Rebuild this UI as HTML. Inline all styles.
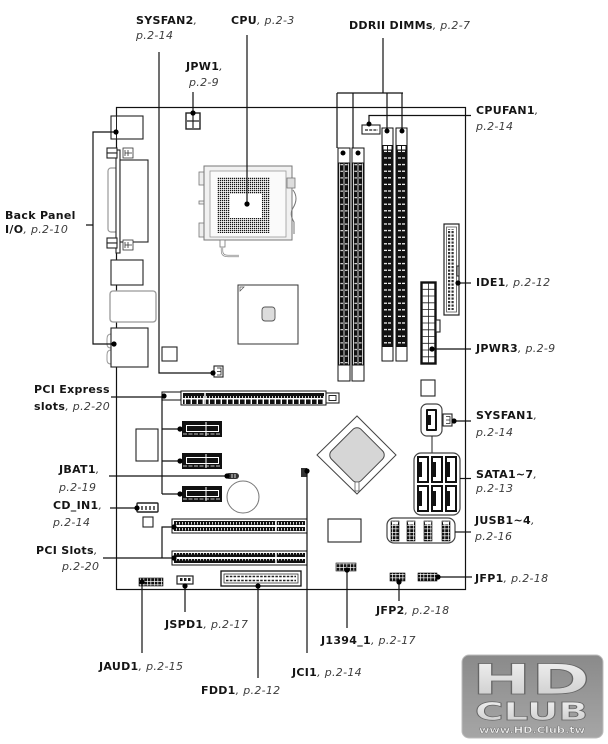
<!DOCTYPE html>
<html><head><meta charset="utf-8">
<style>
html,body{margin:0;padding:0;background:#fff;}
svg{display:block;}
.b{font-family:"DejaVu Sans","Liberation Sans",sans-serif;font-weight:bold;font-size:11px;fill:#151515;letter-spacing:0.3px;}
.i{font-weight:normal;font-style:italic;fill:#3c3c3c;}
.ld{stroke:#111;stroke-width:1.2;fill:none;}
.c{fill:#fff;stroke:#222;stroke-width:1.1;}
</style></head><body>
<svg width="608" height="744" viewBox="0 0 608 744" xmlns="http://www.w3.org/2000/svg">
<defs>
<pattern id="cpupins" width="2" height="2" patternUnits="userSpaceOnUse"><rect width="1.25" height="1.25" fill="#111"/></pattern>
<pattern id="dashR" width="11" height="6.6" patternUnits="userSpaceOnUse"><rect width="11" height="6.6" fill="#111"/><rect x="2" y="3" width="3" height="1.2" fill="#fff"/><rect x="6" y="3" width="3" height="1.2" fill="#fff"/></pattern>
<pattern id="dashL" width="12" height="6.6" patternUnits="userSpaceOnUse"><rect width="12" height="6.6" fill="#111"/><rect x="1" y="0" width="0.8" height="6.6" fill="#fff"/><rect x="5.6" y="0" width="0.8" height="6.6" fill="#fff"/><rect x="10.2" y="0" width="0.8" height="6.6" fill="#fff"/><rect x="2.4" y="3" width="2.6" height="1" fill="#fff"/><rect x="7" y="3" width="2.6" height="1" fill="#fff"/></pattern>
<pattern id="ticks" width="3" height="6" patternUnits="userSpaceOnUse"><rect width="3" height="6" fill="#111"/><rect x="2" y="0" width="0.8" height="2.5" fill="#fff"/></pattern>
<pattern id="blocks" width="6" height="6" patternUnits="userSpaceOnUse"><rect width="4.6" height="6" fill="#111"/></pattern>
<pattern id="hp" width="3.5" height="3.5" patternUnits="userSpaceOnUse"><rect width="3.5" height="3.5" fill="#111"/><rect width="3.5" height="0.7" fill="#fff"/><rect width="0.7" height="3.5" fill="#fff"/></pattern>
<pattern id="idep" width="3.5" height="3.5" patternUnits="userSpaceOnUse"><rect width="2.2" height="2.2" fill="#333"/></pattern>
<linearGradient id="lg" x1="0" y1="0" x2="0" y2="1"><stop offset="0" stop-color="#8a8a8a"/><stop offset="1" stop-color="#a6a6a6"/></linearGradient>
<linearGradient id="lt" x1="0" y1="0" x2="0" y2="1"><stop offset="0" stop-color="#f4f4f4"/><stop offset="1" stop-color="#c9c9c9"/></linearGradient>
</defs>

<!-- Board outline -->
<rect x="116.5" y="107.5" width="349" height="482" fill="none" stroke="#111" stroke-width="1.2"/>

<!-- Back panel components -->
<rect x="111" y="116" width="32" height="23" class="c"/>
<line x1="116.5" y1="116" x2="116.5" y2="139" stroke="#222"/>
<rect x="108" y="168" width="10" height="64" rx="3" fill="#fff" stroke="#999" stroke-width="1.2"/>
<rect x="116" y="150" width="4" height="103" class="c"/>
<rect x="120" y="160" width="28" height="82" class="c"/>
<rect x="107" y="148" width="10" height="5" class="c"/><rect x="107" y="153" width="10" height="5" class="c"/>
<rect x="123" y="148" width="10" height="10" fill="#fff" stroke="#333" stroke-width="0.8"/>
<path d="M125 150 v6 M128 150 v6 M125 153 h7" stroke="#333" stroke-width="0.8"/>
<rect x="107" y="238" width="10" height="5" class="c"/><rect x="107" y="243" width="10" height="5" class="c"/>
<rect x="123" y="240" width="10" height="10" fill="#fff" stroke="#333" stroke-width="0.8"/>
<path d="M125 242 v6 M128 242 v6 M125 245 h7" stroke="#333" stroke-width="0.8"/>
<rect x="111" y="260" width="32" height="25" class="c"/>
<rect x="110" y="291" width="46" height="31" rx="3" fill="#fff" stroke="#999" stroke-width="1.3"/>
<path d="M111 334 q-4 0 -4 5 v5 q0 4 4 4 M111 350 q-4 0 -4 5 v5 q0 4 4 4" fill="none" stroke="#999"/>
<rect x="111" y="328" width="37" height="39" class="c"/>

<!-- small square & SYSFAN2 connector -->
<rect x="162" y="347" width="15" height="14" class="c"/>
<rect x="214" y="366" width="9" height="11" class="c"/>
<path d="M217 368 h4 v7 h-4 M217 371.5 h4" fill="none" stroke="#222" stroke-width="0.8"/>

<!-- JPW1 -->
<rect x="186" y="113" width="14" height="16" fill="#fff" stroke="#222" stroke-width="1.4"/>
<path d="M193 114 v14 M187 121 h12" stroke="#222" stroke-width="1.2"/>

<!-- CPU socket -->
<rect x="199" y="172" width="6" height="13" fill="#eee" stroke="#777" stroke-width="0.8"/>
<rect x="199" y="223" width="6" height="14" fill="#eee" stroke="#777" stroke-width="0.8"/>
<rect x="199" y="201" width="14" height="3" fill="#eee" stroke="#777" stroke-width="0.8"/>
<rect x="204" y="166" width="88" height="74" fill="#f1f1f1" stroke="#777" stroke-width="1"/>
<rect x="210" y="171" width="76" height="66" fill="#fafafa" stroke="#999" stroke-width="0.8"/>
<rect x="217" y="177" width="53" height="56" fill="#fff"/>
<rect x="217" y="177" width="53" height="56" fill="url(#cpupins)"/>
<rect x="230" y="194" width="32" height="24" fill="#fff"/>
<rect x="287" y="178" width="8" height="10" fill="#ddd" stroke="#777" stroke-width="0.8"/>
<path d="M293 190 q6 8 0 18 q-4 6 1 14 v12" fill="none" stroke="#777" stroke-width="1"/>
<rect x="220" y="240" width="5" height="7" fill="#fff" stroke="#777" stroke-width="0.8"/>
<path d="M222 247 v4 q0 5 6 5 h11" fill="none" stroke="#888" stroke-width="2.2"/>
<path d="M222 247 v4 q0 5 6 5 h11" fill="none" stroke="#fff" stroke-width="0.8"/>

<!-- Northbridge -->
<rect x="238" y="285" width="60" height="59" fill="#fff" stroke="#333" stroke-width="1"/>
<path d="M240 287 h4 l-4 4 z" fill="#fff" stroke="#555" stroke-width="0.7"/>
<rect x="262" y="307" width="13" height="14" rx="3" fill="#dcdcdc" stroke="#555" stroke-width="0.9"/>

<!-- CPUFAN1 -->
<rect x="362" y="125" width="18" height="9" class="c"/>
<line x1="365" y1="130" x2="378" y2="130" stroke="#222" stroke-width="1.2" stroke-dasharray="3,1.2"/>

<!-- Left DIMMs -->
<g transform="translate(338,148)">
<rect x="0" y="0" width="12" height="233" fill="#fff" stroke="#111" stroke-width="1"/>
<rect x="0.5" y="15" width="11" height="202" fill="url(#dashL)"/>
<line x1="0" y1="15" x2="12" y2="15" stroke="#111"/><line x1="0" y1="217" x2="12" y2="217" stroke="#111"/>
</g>
<g transform="translate(352,148)">
<rect x="0" y="0" width="12" height="233" fill="#fff" stroke="#111" stroke-width="1"/>
<rect x="0.5" y="15" width="11" height="202" fill="url(#dashL)"/>
<line x1="0" y1="15" x2="12" y2="15" stroke="#111"/><line x1="0" y1="217" x2="12" y2="217" stroke="#111"/>
</g>
<!-- Right DIMMs -->
<g transform="translate(382,128)">
<rect x="0" y="0" width="11" height="233" fill="#fff" stroke="#111" stroke-width="1"/>
<rect x="0" y="17" width="11" height="5" fill="#111"/>
<rect x="1.5" y="18" width="3.5" height="3.5" fill="#fff"/><rect x="6" y="18" width="3.5" height="3.5" fill="#fff"/>
<rect x="0" y="22" width="11" height="197" fill="url(#dashR)"/>
</g>
<g transform="translate(396,128)">
<rect x="0" y="0" width="11" height="233" fill="#fff" stroke="#111" stroke-width="1"/>
<rect x="0" y="17" width="11" height="5" fill="#111"/>
<rect x="1.5" y="18" width="3.5" height="3.5" fill="#fff"/><rect x="6" y="18" width="3.5" height="3.5" fill="#fff"/>
<rect x="0" y="22" width="11" height="197" fill="url(#dashR)"/>
</g>

<!-- IDE1 -->
<rect x="444" y="224" width="15" height="91" fill="#fff" stroke="#222" stroke-width="1.2"/>
<rect x="446.5" y="227" width="10" height="85" fill="none" stroke="#555" stroke-width="0.8"/>
<rect x="448" y="229" width="7" height="81" fill="url(#idep)"/>
<path d="M459 266 h-2 v10 h2" fill="none" stroke="#222"/>

<!-- JPWR3 -->
<rect x="421.5" y="282.5" width="14" height="81" fill="#fff" stroke="#111" stroke-width="2.4"/>
<path d="M428.5 283 v80 M422 289.3 h13 M422 296 h13 M422 302.8 h13 M422 309.5 h13 M422 316.3 h13 M422 323 h13 M422 329.8 h13 M422 336.5 h13 M422 343.3 h13 M422 350 h13 M422 356.8 h13" stroke="#222" stroke-width="0.8"/>
<rect x="436" y="320" width="4" height="12" class="c"/>
<rect x="421" y="380" width="14" height="16" class="c"/>

<!-- SATA single + SYSFAN1 -->
<rect x="421" y="404" width="21" height="32" rx="6" fill="#fff" stroke="#444" stroke-width="1.2"/>
<rect x="426" y="409" width="11" height="22" rx="1" fill="#111"/>
<path d="M428 411 h7 v18 h-7 v-4 h3 v-10 h-3 z" fill="#fff"/>
<rect x="443" y="414" width="9" height="12" class="c"/>
<path d="M446 416.5 h4 v7 h-4 M446 420 h4" fill="none" stroke="#222" stroke-width="0.8"/>
<line x1="432" y1="436" x2="432" y2="453" stroke="#222"/>

<!-- SATA group -->
<rect x="414" y="453" width="46" height="62" rx="7" fill="#fff" stroke="#444" stroke-width="1.2"/>
<g fill="#111">
<rect x="417" y="456" width="12" height="27"/><rect x="431" y="456" width="12" height="27"/><rect x="445" y="456" width="12" height="27"/>
<rect x="417" y="485" width="12" height="27"/><rect x="431" y="485" width="12" height="27"/><rect x="445" y="485" width="12" height="27"/>
</g>
<g fill="#fff">
<path d="M419 458 h8 v23 h-8 v-4 h3 v-15 h-3 z"/><path d="M433 458 h8 v23 h-8 v-4 h3 v-15 h-3 z"/><path d="M447 458 h8 v23 h-8 v-4 h3 v-15 h-3 z"/>
<path d="M419 487 h8 v23 h-8 v-4 h3 v-15 h-3 z"/><path d="M433 487 h8 v23 h-8 v-4 h3 v-15 h-3 z"/><path d="M447 487 h8 v23 h-8 v-4 h3 v-15 h-3 z"/>
</g>

<!-- JUSB -->
<rect x="387" y="518" width="68" height="25" rx="7" fill="#fff" stroke="#444" stroke-width="1.2"/>
<rect x="391" y="521" width="8" height="20" fill="url(#hp)" stroke="#111" stroke-width="0.6"/>
<rect x="407" y="521" width="8" height="20" fill="url(#hp)" stroke="#111" stroke-width="0.6"/>
<rect x="424" y="521" width="8" height="20" fill="url(#hp)" stroke="#111" stroke-width="0.6"/>
<rect x="442" y="521" width="8" height="20" fill="url(#hp)" stroke="#111" stroke-width="0.6"/>
<rect x="392" y="522" width="6" height="2.5" fill="#fff"/><rect x="408" y="522" width="6" height="2.5" fill="#fff"/><rect x="425" y="522" width="6" height="2.5" fill="#fff"/><rect x="443" y="522" width="6" height="2.5" fill="#fff"/>

<!-- Southbridge -->
<polygon points="317,455 357,416 396,455 357,494" fill="#fff" stroke="#444" stroke-width="1"/>
<rect x="-21" y="-21" width="42" height="42" rx="6" transform="translate(357,455) rotate(45)" fill="#d6d6d6" stroke="#444" stroke-width="1"/>
<rect x="355" y="482" width="4" height="9" fill="#fff" stroke="#444" stroke-width="0.7"/>

<rect x="328" y="519" width="33" height="23" class="c"/>

<!-- PCIe x16 -->
<rect x="162" y="392" width="19" height="8" class="c"/>
<rect x="181" y="391" width="145" height="14" fill="#fff" stroke="#111" stroke-width="1"/>
<rect x="183" y="393" width="141" height="5" fill="url(#ticks)"/>
<rect x="183" y="399.5" width="141" height="4.5" fill="url(#blocks)"/>
<line x1="205" y1="392" x2="205" y2="404" stroke="#fff" stroke-width="1.5"/>
<rect x="326" y="393" width="13" height="10" class="c"/>
<rect x="329" y="395.5" width="7" height="5" fill="none" stroke="#111" stroke-width="0.9"/>

<!-- PCIe x1 slots -->
<g>
<rect x="182" y="421" width="40" height="16" fill="#111"/>
<rect x="186.5" y="425.5" width="32" height="6" fill="none" stroke="#fff" stroke-width="1"/>
<line x1="206" y1="422" x2="206" y2="436" stroke="#fff" stroke-width="1"/>
<line x1="183" y1="434" x2="221" y2="434" stroke="#fff" stroke-width="0.8" stroke-dasharray="4,1.5"/>
<rect x="182" y="453" width="40" height="16" fill="#111"/>
<rect x="186.5" y="457.5" width="32" height="6" fill="none" stroke="#fff" stroke-width="1"/>
<line x1="206" y1="454" x2="206" y2="468" stroke="#fff" stroke-width="1"/>
<line x1="183" y1="466" x2="221" y2="466" stroke="#fff" stroke-width="0.8" stroke-dasharray="4,1.5"/>
<rect x="182" y="486" width="40" height="16" fill="#111"/>
<rect x="186.5" y="490.5" width="32" height="6" fill="none" stroke="#fff" stroke-width="1"/>
<line x1="206" y1="487" x2="206" y2="501" stroke="#fff" stroke-width="1"/>
<line x1="183" y1="499" x2="221" y2="499" stroke="#fff" stroke-width="0.8" stroke-dasharray="4,1.5"/>
</g>

<rect x="136" y="429" width="22" height="32" class="c"/>

<!-- JBAT1, battery, JCI1 -->
<rect x="226" y="473" width="13" height="6" rx="3" fill="#333"/>
<path d="M232 474 v4 M235 474 v4" stroke="#fff" stroke-width="0.8"/>
<circle cx="243" cy="497" r="16" fill="none" stroke="#777" stroke-width="1"/>
<rect x="301" y="468" width="6" height="9" fill="#333"/>

<!-- CD_IN1 -->
<rect x="137" y="503" width="21" height="9" rx="1" fill="#fff" stroke="#222" stroke-width="1.4"/>
<path d="M142 506 v4 M146 506 v4 M150 506 v4 M154 506 v4" stroke="#222" stroke-width="1.4"/>
<rect x="143" y="517" width="10" height="10" class="c"/>

<!-- PCI slots -->
<g>
<rect x="172" y="519" width="135" height="14" fill="#fff" stroke="#111" stroke-width="1"/>
<rect x="174" y="521" width="131" height="4" fill="url(#ticks)"/>
<rect x="174" y="527" width="131" height="4" fill="url(#ticks)"/>
<line x1="276" y1="520" x2="276" y2="532" stroke="#fff" stroke-width="1.5"/>
<rect x="172" y="551" width="135" height="14" fill="#fff" stroke="#111" stroke-width="1"/>
<rect x="174" y="553" width="131" height="4" fill="url(#ticks)"/>
<rect x="174" y="559" width="131" height="4" fill="url(#ticks)"/>
<line x1="276" y1="552" x2="276" y2="564" stroke="#fff" stroke-width="1.5"/>
</g>

<!-- bottom headers -->
<rect x="139" y="578" width="24" height="8" fill="url(#hp)" stroke="#111" stroke-width="0.6"/>
<rect x="177" y="576" width="16" height="8" fill="#fff" stroke="#222" stroke-width="1.2"/>
<path d="M180 578 h2.5 v3 h-2.5z M184 578 h2.5 v3 h-2.5z M188 578 h2.5 v3 h-2.5z" fill="#222"/>
<rect x="221" y="571" width="80" height="15" fill="#fff" stroke="#111" stroke-width="1.3"/>
<rect x="224" y="574" width="74" height="9" fill="none" stroke="#333" stroke-width="0.8"/>
<line x1="226" y1="576.5" x2="296" y2="576.5" stroke="#222" stroke-width="1.4" stroke-dasharray="2.5,1.3"/>
<line x1="226" y1="580.5" x2="296" y2="580.5" stroke="#222" stroke-width="1.4" stroke-dasharray="2.5,1.3"/>
<rect x="336" y="563" width="20" height="8" fill="url(#hp)" stroke="#111" stroke-width="0.6"/>
<rect x="390" y="573" width="15" height="8" fill="url(#hp)" stroke="#111" stroke-width="0.6"/>
<rect x="418" y="573" width="19" height="8" fill="url(#hp)" stroke="#111" stroke-width="0.6"/>

<!-- Leader lines -->
<g class="ld">
<path d="M159 52 V373 H213"/>
<path d="M247 35 V204"/>
<path d="M193 92 V113"/>
<path d="M383 38 V93 M337 93 H403 M337 93 V148 M353 93 V148 M387 93 V131 M402 93 V131"/>
<path d="M369 124 V115.5 H471"/>
<path d="M116 132 H93 V344 H114 M86 225 H93"/>
<path d="M458 283 H471"/>
<path d="M432 349 H471"/>
<path d="M111 397 H164 M162 397 V494 M162 429 H180 M162 461 H180 M162 494 H180"/>
<path d="M454 421 H471"/>
<path d="M109 476 H227"/>
<path d="M460 478.5 H471"/>
<path d="M110 508 H137"/>
<path d="M455 532 H471"/>
<path d="M103 558 H174 M162 558 V527 H174"/>
<path d="M438 577 H472"/>
<path d="M142 582 V653"/>
<path d="M185 586 V612"/>
<path d="M258 586 V678"/>
<path d="M307 471 V653"/>
<path d="M347 570 V628"/>
<path d="M399 582 V601"/>
</g>
<!-- Dots -->
<g fill="#000">
<circle cx="213" cy="373" r="2.6"/><circle cx="247" cy="204" r="2.6"/><circle cx="193" cy="113" r="2.6"/>
<circle cx="343" cy="153" r="2.5"/><circle cx="358" cy="153" r="2.5"/><circle cx="387" cy="131" r="2.5"/><circle cx="402" cy="131" r="2.5"/>
<circle cx="369" cy="124" r="2.5"/><circle cx="116" cy="132" r="2.6"/><circle cx="114" cy="344" r="2.6"/>
<circle cx="458" cy="283" r="2.6"/><circle cx="432" cy="349" r="2.6"/><circle cx="164" cy="396" r="2.6"/>
<circle cx="180" cy="429" r="2.6"/><circle cx="180" cy="461" r="2.6"/><circle cx="180" cy="494" r="2.6"/>
<circle cx="454" cy="421" r="2.6"/><circle cx="227" cy="476" r="2.6"/><circle cx="137" cy="508" r="2.6"/>
<circle cx="174" cy="527" r="2.6"/><circle cx="174" cy="558" r="2.6"/><circle cx="438" cy="577" r="2.6"/>
<circle cx="142" cy="582" r="2.6"/><circle cx="185" cy="586" r="2.6"/><circle cx="258" cy="586" r="2.6"/>
<circle cx="307" cy="471" r="2.6"/><circle cx="347" cy="570" r="2.6"/><circle cx="399" cy="582" r="2.6"/>
</g>

<!-- Labels -->
<text class="b" x="136" y="24">SYSFAN2<tspan class="i">,</tspan></text>
<text class="b i" x="136" y="39">p.2-14</text>
<text class="b" x="231" y="24">CPU<tspan class="i">, p.2-3</tspan></text>
<text class="b" x="186" y="70">JPW1<tspan class="i">,</tspan></text>
<text class="b i" x="189" y="86">p.2-9</text>
<text class="b" x="349" y="29">DDRII DIMMs<tspan class="i">, p.2-7</tspan></text>
<text class="b" x="476" y="114">CPUFAN1<tspan class="i">,</tspan></text>
<text class="b i" x="476" y="130">p.2-14</text>
<text class="b" x="5" y="219">Back Panel</text>
<text class="b" x="5" y="233">I/O<tspan class="i">, p.2-10</tspan></text>
<text class="b" x="476" y="286">IDE1<tspan class="i">, p.2-12</tspan></text>
<text class="b" x="476" y="352">JPWR3<tspan class="i">, p.2-9</tspan></text>
<text class="b" x="34" y="393">PCI Express</text>
<text class="b" x="34" y="410">slots<tspan class="i">, p.2-20</tspan></text>
<text class="b" x="476" y="419">SYSFAN1<tspan class="i">,</tspan></text>
<text class="b i" x="476" y="436">p.2-14</text>
<text class="b" x="59" y="473">JBAT1<tspan class="i">,</tspan></text>
<text class="b i" x="59" y="491">p.2-19</text>
<text class="b" x="476" y="478">SATA1~7<tspan class="i">,</tspan></text>
<text class="b i" x="476" y="492">p.2-13</text>
<text class="b" x="53" y="509">CD_IN1<tspan class="i">,</tspan></text>
<text class="b i" x="53" y="526">p.2-14</text>
<text class="b" x="475" y="524">JUSB1~4<tspan class="i">,</tspan></text>
<text class="b i" x="475" y="540">p.2-16</text>
<text class="b" x="36" y="554">PCI Slots<tspan class="i">,</tspan></text>
<text class="b i" x="62" y="570">p.2-20</text>
<text class="b" x="475" y="582">JFP1<tspan class="i">, p.2-18</tspan></text>
<text class="b" x="376" y="614">JFP2<tspan class="i">, p.2-18</tspan></text>
<text class="b" x="165" y="628">JSPD1<tspan class="i">, p.2-17</tspan></text>
<text class="b" x="321" y="644">J1394_1<tspan class="i">, p.2-17</tspan></text>
<text class="b" x="99" y="670">JAUD1<tspan class="i">, p.2-15</tspan></text>
<text class="b" x="292" y="676">JCI1<tspan class="i">, p.2-14</tspan></text>
<text class="b" x="201" y="694">FDD1<tspan class="i">, p.2-12</tspan></text>

<!-- Watermark -->
<rect x="462" y="655" width="141" height="83" rx="7" fill="url(#lg)" stroke="#bdbdbd" stroke-width="1"/>
<text x="472" y="694" font-family="'DejaVu Sans','Liberation Sans',sans-serif" font-weight="bold" font-size="42" textLength="118" lengthAdjust="spacingAndGlyphs" fill="url(#lt)" stroke="#666" stroke-width="0.8">HD</text>
<text x="475" y="720" font-family="'DejaVu Sans','Liberation Sans',sans-serif" font-weight="bold" font-size="25" textLength="113" lengthAdjust="spacingAndGlyphs" fill="url(#lt)" stroke="#666" stroke-width="0.7">CLUB</text>
<text x="479" y="733" font-family="'DejaVu Sans','Liberation Sans',sans-serif" font-weight="bold" font-size="8.5" textLength="106" lengthAdjust="spacingAndGlyphs" fill="#eee" stroke="#555" stroke-width="0.3">www.HD.Club.tw</text>
</svg>
</body></html>
